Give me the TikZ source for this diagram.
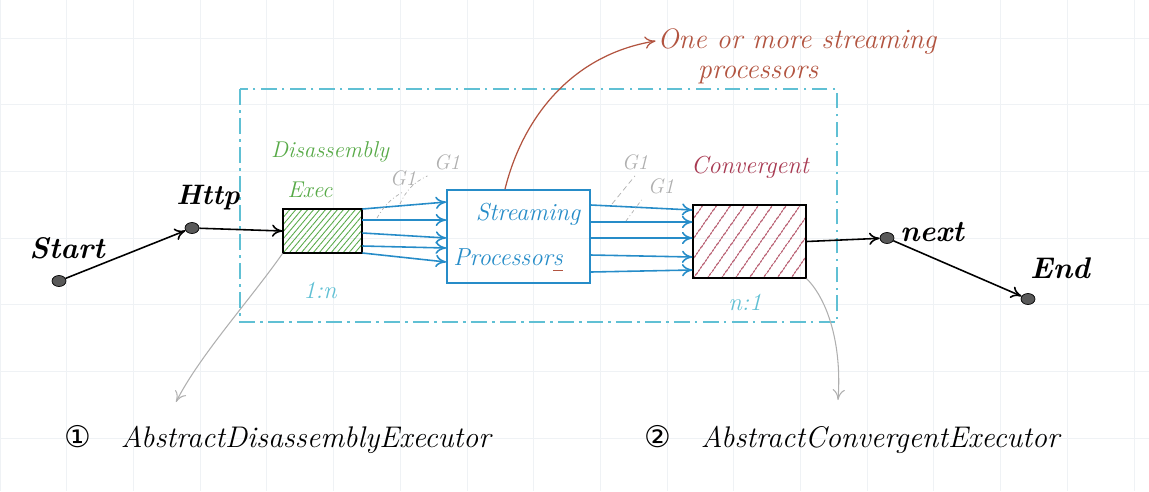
\documentclass[tikz,border=0pt]{standalone}
\usepackage{fontspec}
\newfontfamily\symfont{DejaVu Sans}
\usetikzlibrary{arrows.meta,patterns.meta,shapes.geometric}

\definecolor{gruen}{RGB}{88,170,72}
\definecolor{blau}{RGB}{38,140,200}
\definecolor{tuerkis}{RGB}{96,192,212}
\definecolor{weinrot}{RGB}{168,58,82}
\definecolor{rost}{RGB}{178,84,64}
\definecolor{grau}{RGB}{175,175,175}
\definecolor{raster}{RGB}{239,242,245}

\newcommand{\schrift}[1]{\fontsize{#1}{#1}\selectfont\itshape}

\tikzset{
  punkt/.style={ellipse, draw=black, fill=black!65, minimum width=0.28cm, minimum height=0.22cm, inner sep=0pt},
  kasten/.style={draw=black, line width=1pt, inner sep=0pt},
}

\begin{document}
\begin{tikzpicture}[x=0.02cm, y=-0.02cm, >={To[length=6pt,width=7pt]}]
    \useasboundingbox (0,0) rectangle (1149,491);

    % Raster
    \foreach \gx in {0,66.7,...,1149} \draw[raster, line width=0.4pt] (\gx,0) -- (\gx,491);
    \foreach \gy in {38,104.7,...,491} \draw[raster, line width=0.4pt] (0,\gy) -- (1149,\gy);

    % Rahmen
    \draw[tuerkis, line width=0.9pt, dash pattern=on 9pt off 3pt on 1.5pt off 3pt] (240,89) rectangle (837,322);

    % Punkte
    \node[punkt] (start) at (59,281) {};
    \node[punkt] (http) at (192,228) {};
    \node[punkt] (next) at (887,238) {};
    \node[punkt] (end) at (1028,299) {};

    % Kaesten
    \node[kasten, minimum width=1.58cm, minimum height=0.88cm, pattern={Lines[angle=50,distance=2.6pt,line width=0.5pt]}, pattern color=gruen] (dis) at (322.5,231) {};
    \node[draw=blau, line width=1pt, minimum width=2.86cm, minimum height=1.86cm] (sp) at (518.5,236.5) {};
    \node[kasten, minimum width=2.26cm, minimum height=1.46cm, pattern={Lines[angle=55,distance=6.5pt,line width=0.6pt]}, pattern color=weinrot] (conv) at (749.5,241.5) {};

    % Beschriftungen
    \node[font=\schrift{17}\bfseries] (startlbl) at (67,248) {Start};
    \node[font=\schrift{16}\bfseries] (httplbl) at (208,198) {Http};
    \node[font=\schrift{17}\bfseries] (nextlbl) at (932,232) {next};
    \node[font=\schrift{17}\bfseries] (endlbl) at (1060,268) {End};
    \node[font=\schrift{13}, text=gruen] (dislbl1) at (330,152) {Disassembly};
    \node[font=\schrift{13}, text=gruen] (dislbl2) at (310,190) {Exec};
    \node[font=\schrift{14}, text=weinrot] (convlbl) at (750,167) {Convergent};
    \node[font=\schrift{14}, text=tuerkis] (einsn) at (320,290) {1:n};
    \node[font=\schrift{14}, text=tuerkis] (neins) at (745,302) {n:1};
    \node[font=\schrift{14}, text=blau] (sptxt1) at (528,214) {Streaming};
    \node[font=\schrift{14}, text=blau] (sptxt2) at (508,260) {Processor\rlap{\textcolor{rost}{\rule[-3pt]{0.42em}{0.8pt}}}s};

    % Pfeile
    \draw[->, line width=0.9pt] (start) -- (http);
    \draw[->, line width=0.9pt] (http) -- (dis.west);
    \draw[->, line width=0.9pt] (conv.east) -- (next);
    \draw[->, line width=0.9pt] (next) -- (end);

    % Stroeme
    \foreach \a/\b in {209/202,220/220,233/238,246/248,253/262}
        \draw[->, blau, line width=0.9pt] (dis.east |- 0,\a) -- (sp.west |- 0,\b);
    \foreach \a/\b in {205/210,222/222,238/238,255/257,272/270}
        \draw[->, blau, line width=0.9pt] (sp.east |- 0,\a) -- (conv.west |- 0,\b);

    % G1
    \node[font=\schrift{12}, text=grau] (g1a) at (403,178) {G1};
    \node[font=\schrift{12}, text=grau] (g1b) at (447,162) {G1};
    \node[font=\schrift{12}, text=grau] (g1c) at (635,162) {G1};
    \node[font=\schrift{12}, text=grau] (g1d) at (661,186) {G1};
    \coordinate (ga) at (377,218);
    \coordinate (gb) at (400,204);
    \coordinate (gc) at (612,204);
    \coordinate (gd) at (626,221);
    \draw[grau, dash pattern=on 2pt off 1.5pt on 0.5pt off 1.5pt] (ga) to[bend left=15] (g1a.south);
    \draw[grau, dash pattern=on 2pt off 1.5pt on 0.5pt off 1.5pt] (gb) to[bend left=20] (g1b.south west);
    \draw[grau, dash pattern=on 3pt off 2pt] (gc) -- (g1c.south);
    \draw[grau, dash pattern=on 2pt off 1.5pt on 0.5pt off 1.5pt] (gd) -- (g1d.south west);

    % Hinweis
    \node[font=\schrift{16}, text=rost, inner sep=1pt] (hinweis1) at (797,41) {One or more streaming};
    \node[font=\schrift{16}, text=rost, inner sep=1pt] (hinweis2) at (758,75) {processors};
    \draw[->, rost, line width=0.7pt] (sp.north -| 505,0) .. controls (522,120) and (570,55) .. (hinweis1.west);

    % Klassen
    \node[font=\schrift{17}, anchor=west] (abs1) at (58,440) {{\symfont ①}\quad AbstractDisassemblyExecutor};
    \node[font=\schrift{17}, anchor=west] (abs2) at (638,440) {{\symfont ②}\quad AbstractConvergentExecutor};
    \coordinate (ziel1) at (176,402);
    \coordinate (ziel2) at (838,400);
    \draw[->, grau, line width=0.6pt] (dis.south west) .. controls (250,300) and (200,355) .. (ziel1);
    \draw[->, grau, line width=0.6pt] (conv.south east) .. controls (828,300) and (842,345) .. (ziel2);
\end{tikzpicture}
\end{document}
